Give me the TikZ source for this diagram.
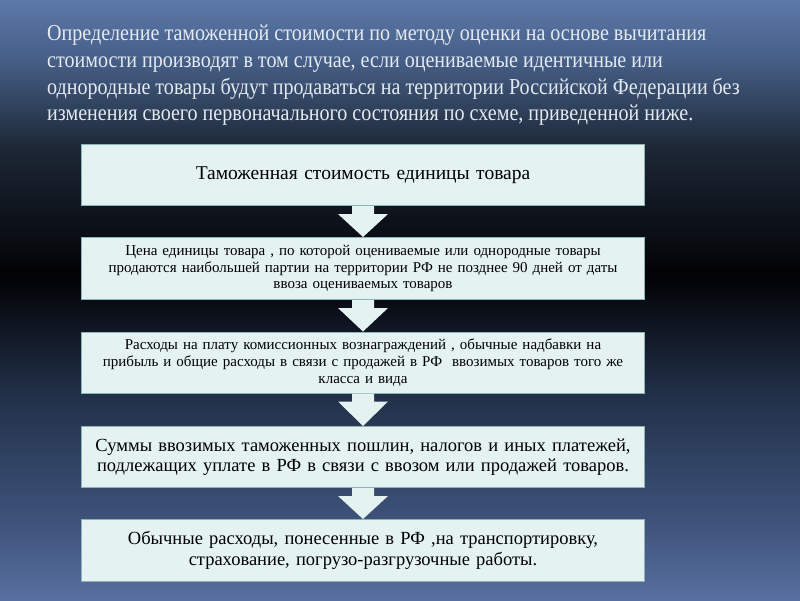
\documentclass[tikz,border=0pt]{standalone}
\usepackage{fontspec}
\setmainfont{Liberation Serif}
\newfontfamily\narrowserif[FakeStretch=0.88]{Liberation Serif}
\usetikzlibrary{calc}
\definecolor{bgA}{RGB}{92,120,168}
\definecolor{bgB}{RGB}{70,95,135}
\definecolor{bgC}{RGB}{28,38,52}
\definecolor{bgD}{RGB}{2,2,5}
\definecolor{bgE}{RGB}{35,50,75}
\definecolor{bgF}{RGB}{62,82,122}
\definecolor{bgG}{RGB}{88,112,160}
\definecolor{boxfill}{RGB}{228,242,242}
\definecolor{boxline}{RGB}{140,180,182}
\definecolor{headtext}{RGB}{228,234,242}
\pgfdeclareverticalshading{slidebg}{100bp}{color(0bp)=(bgG); color(25bp)=(bgG); color(31.67bp)=(bgF); color(41.67bp)=(bgE); color(52.08bp)=(bgD); color(62.5bp)=(bgC); color(70bp)=(bgB); color(75bp)=(bgA); color(100bp)=(bgA)}
\tikzset{
  flowbox/.style={draw=boxline, line width=1pt, fill=boxfill, minimum width=563pt, minimum height=61pt, text width=555pt, align=center, inner sep=0pt, text=black},
  smalltext/.style={font=\fontsize{15}{16.8}\selectfont},
  bigtext/.style={font=\fontsize{18.5}{20.5}\selectfont},
  flowarrow/.style={fill=boxfill, draw=none}
}
\begin{document}
\begin{tikzpicture}[x=1pt,y=-1pt]
\useasboundingbox (0,0) rectangle (800,600);
\shade[shading=slidebg] (0,0) rectangle (800,600);
\node[anchor=north west, align=left, text=headtext, inner sep=0pt, font=\narrowserif\fontsize{22.8}{26.7}\selectfont] (head) at (47,25) {Определение таможенной стоимости по методу оценки на основе вычитания\\
стоимости производят в том случае, если оцениваемые идентичные или\\
однородные товары будут продаваться на территории Российской Федерации без\\
изменения своего первоначального состояния по схеме, приведенной ниже.};
\node[flowbox, font=\fontsize{19.5}{22}\selectfont] (b1) at (363,175) {Таможенная стоимость единицы товара};
\node[flowbox, smalltext, minimum height=62pt] (b2) at (363,268.5) {Цена единицы товара , по которой оцениваемые или однородные товары\\ продаются наибольшей партии на территории РФ не позднее 90 дней от даты\\ ввоза оцениваемых товаров};
\node[flowbox, smalltext] (b3) at (363,362.5) {Расходы на плату комиссионных вознаграждений , обычные надбавки на\\ прибыль и общие расходы в связи с продажей в РФ \ ввозимых товаров того же\\ класса и вида};
\node[flowbox, bigtext] (b4) at (363,457) {Суммы ввозимых таможенных пошлин, налогов и иных платежей,\\ подлежащих уплате в РФ в связи с ввозом или продажей товаров.};
\node[flowbox, bigtext, minimum height=62pt] (b5) at (363,550.5) {Обычные расходы, понесенные в РФ ,на транспортировку,\\ страхование, погрузо-разгрузочные работы.};
\foreach \a/\b in {b1/b2,b2/b3,b3/b4,b4/b5}{
  \fill[flowarrow] ($(\a.south)+(-11,0)$) -- ($(\a.south)+(11,0)$) -- ($(\a.south)+(11,8)$) -- ($(\a.south)+(25,8)$) -- (\b.north) -- ($(\a.south)+(-25,8)$) -- ($(\a.south)+(-11,8)$) -- cycle;
}
\end{tikzpicture}
\end{document}
